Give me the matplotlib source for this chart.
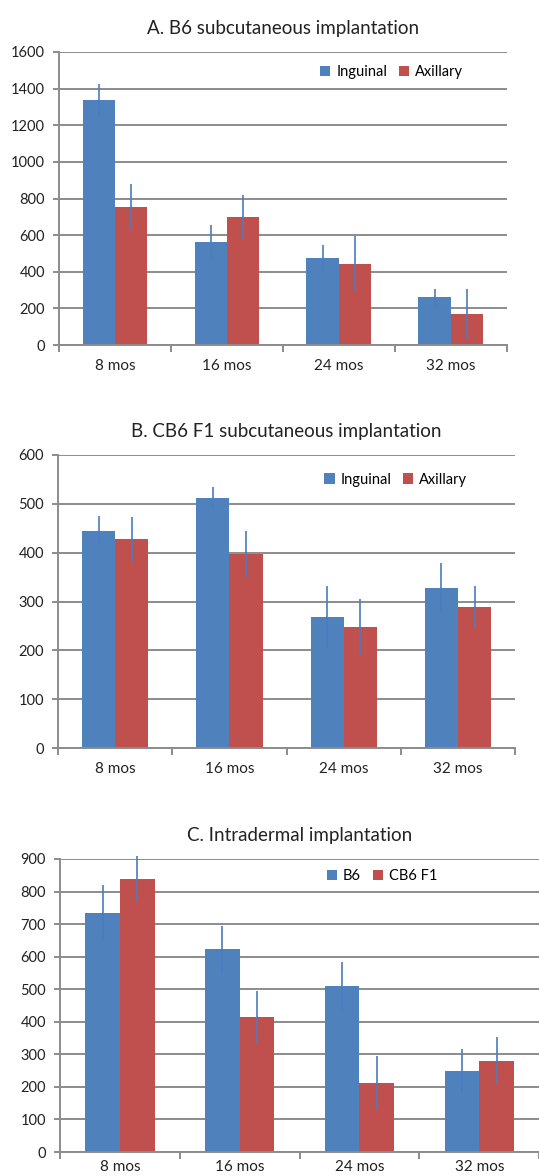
import numpy as np
import matplotlib.pyplot as plt

plt.rcParams['font.family'] = ['Lato', 'DejaVu Sans']

months = ['8 mos', '16 mos', '24 mos', '32 mos']

# A. B6 subcutaneous
a_inguinal = [1340, 565, 475, 260]
a_inguinal_err = [85, 90, 72, 47]
a_axillary = [755, 698, 443, 170]
a_axillary_err = [125, 120, 150, 137]

# B. CB6 F1 subcutaneous
b_inguinal = [445, 511, 268, 328]
b_inguinal_err = [30, 24, 63, 51]
b_axillary = [427, 398, 248, 289]
b_axillary_err = [47, 47, 58, 43]

# C. Intradermal
c_b6 = [735, 622, 510, 250]
c_b6_err = [84, 73, 75, 67]
c_cb6 = [838, 416, 213, 281]
c_cb6_err = [71, 80, 83, 71]

BLUE = '#4F81BD'
RED = '#C0504D'
ERR = '#4A7CC0'
GRID = '#8c8c8c'


def panel(ax, title, s1, e1, s2, e2, labels, ymax, ystep, leg_xy, xpad=10):
    x = np.arange(len(months))
    w = 0.29
    ax.bar(x - w/2, s1, w, color=BLUE, label=labels[0], zorder=2)
    ax.bar(x + w/2, s2, w, color=RED, label=labels[1], zorder=2)
    for xs, s, e in [(x - w/2, s1, e1), (x + w/2, s2, e2)]:
        eb = ax.errorbar(xs, s, yerr=e, fmt='none', ecolor=ERR, elinewidth=1.2, capsize=0, zorder=3)
        for c in eb[2]:
            c.set_clip_on(False)
    ax.set_xlim(-0.5, len(months) - 0.5)
    ax.set_ylim(0, ymax)
    ax.set_yticks(np.arange(0, ymax + 1, ystep))
    ax.yaxis.grid(True, color=GRID, linewidth=1.4, zorder=0)
    ax.set_axisbelow(True)
    ax.set_xticks(x)
    ax.set_xticklabels(months, fontsize=11, color='#222222')
    ax.set_xticks(np.arange(-0.5, len(months)), minor=True)
    ax.tick_params(axis='x', which='major', length=0, pad=xpad)
    ax.tick_params(axis='x', which='minor', length=5, color=GRID, width=1.4)
    ax.tick_params(axis='y', length=4, color=GRID, width=1.4, labelsize=10.5, labelcolor='#222222', pad=6)
    for s in ['top', 'right']:
        ax.spines[s].set_visible(False)
    for s in ['left', 'bottom']:
        ax.spines[s].set_color(GRID)
        ax.spines[s].set_linewidth(1.4)
    ax.set_title(title, fontsize=13.5, color='#222222', pad=13)
    ax.legend(loc='upper left', bbox_to_anchor=leg_xy, ncol=2, frameon=False,
              fontsize=10.5, handlelength=0.7, handleheight=0.7, handletextpad=0.4,
              columnspacing=0.8, borderaxespad=0)


fig = plt.figure(figsize=(5.39, 11.76), dpi=100)
ax1 = fig.add_axes([0.1095, 0.7066, 0.831, 0.2492])
ax2 = fig.add_axes([0.1076, 0.3639, 0.848, 0.2492])
ax3 = fig.add_axes([0.1113, 0.0204, 0.889, 0.2492])

panel(ax1, 'A. B6 subcutaneous implantation', a_inguinal, a_inguinal_err,
      a_axillary, a_axillary_err, ['Inguinal', 'Axillary'], 1600, 200, (0.57, 0.975))
panel(ax2, 'B. CB6 F1 subcutaneous implantation', b_inguinal, b_inguinal_err,
      b_axillary, b_axillary_err, ['Inguinal', 'Axillary'], 600, 100, (0.57, 0.96))
panel(ax3, 'C. Intradermal implantation', c_b6, c_b6_err,
      c_cb6, c_cb6_err, ['B6', 'CB6 F1'], 900, 100, (0.545, 0.985), xpad=6)

fig.savefig('out.png', dpi=100)
